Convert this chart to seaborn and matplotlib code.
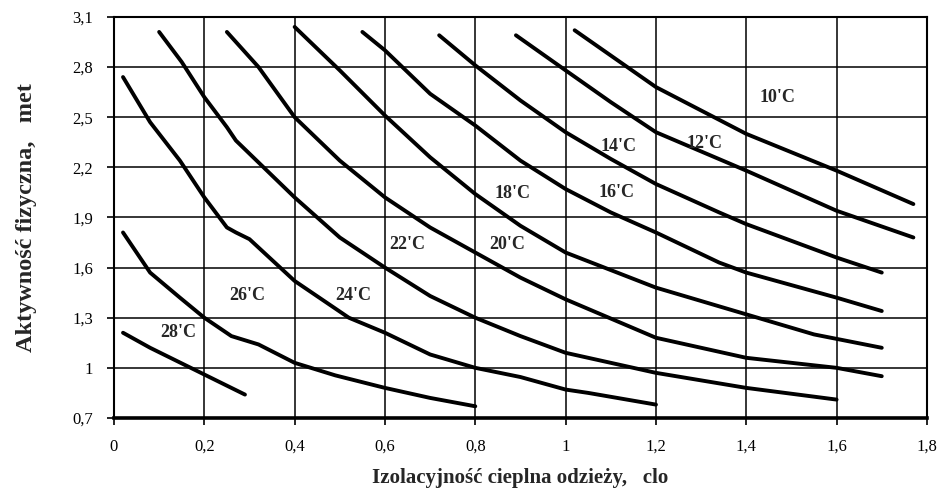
import numpy as np
import pandas as pd
import matplotlib
matplotlib.use("Agg")
import matplotlib.pyplot as plt
import seaborn as sns

sns.set_style("ticks")
plt.rcParams['font.family'] = ['Liberation Serif', 'DejaVu Serif']

# izolacyjnosc odziezy [clo] i aktywnosc [met]
x28 = [0.02, 0.08, 0.14, 0.2, 0.29]
y28 = [1.21, 1.12, 1.04, 0.96, 0.84]
x26 = [0.02, 0.08, 0.146, 0.2, 0.26, 0.32, 0.4, 0.49, 0.6, 0.7, 0.8]
y26 = [1.81, 1.57, 1.42, 1.30, 1.19, 1.14, 1.03, 0.955, 0.88, 0.82, 0.77]
x24 = [0.02, 0.08, 0.146, 0.2, 0.25, 0.27, 0.3, 0.4, 0.52, 0.6, 0.7, 0.8, 0.9, 1.0, 1.05, 1.2]
y24 = [2.74, 2.47, 2.24, 2.02, 1.84, 1.81, 1.77, 1.52, 1.30, 1.21, 1.08, 1.00, 0.945, 0.87, 0.85, 0.78]
x22 = [0.1, 0.15, 0.2, 0.25, 0.27, 0.4, 0.5, 0.6, 0.7, 0.8, 0.9, 1.0, 1.15, 1.2, 1.4, 1.6]
y22 = [3.01, 2.83, 2.62, 2.44, 2.36, 2.02, 1.78, 1.60, 1.43, 1.30, 1.19, 1.09, 1.00, 0.97, 0.88, 0.81]
x20 = [0.25, 0.32, 0.4, 0.5, 0.6, 0.7, 0.8, 0.9, 1.0, 1.2, 1.4, 1.6, 1.7]
y20 = [3.01, 2.80, 2.50, 2.24, 2.02, 1.84, 1.69, 1.54, 1.41, 1.18, 1.06, 1.00, 0.95]
x18 = [0.4, 0.5, 0.6, 0.7, 0.8, 0.9, 1.0, 1.2, 1.3, 1.4, 1.55, 1.7]
y18 = [3.04, 2.78, 2.51, 2.26, 2.04, 1.85, 1.69, 1.48, 1.40, 1.32, 1.20, 1.12]
x16 = [0.55, 0.6, 0.7, 0.8, 0.9, 1.0, 1.1, 1.2, 1.34, 1.4, 1.6, 1.7]
y16 = [3.01, 2.90, 2.64, 2.45, 2.24, 2.07, 1.93, 1.81, 1.63, 1.57, 1.42, 1.34]
x14 = [0.72, 0.8, 0.9, 1.0, 1.1, 1.2, 1.34, 1.4, 1.6, 1.7]
y14 = [2.99, 2.81, 2.60, 2.41, 2.25, 2.10, 1.93, 1.86, 1.66, 1.57]
x12 = [0.89, 1.0, 1.1, 1.2, 1.4, 1.6, 1.77]
y12 = [2.99, 2.78, 2.59, 2.41, 2.18, 1.94, 1.78]
x10 = [1.02, 1.11, 1.2, 1.4, 1.6, 1.77]
y10 = [3.02, 2.85, 2.68, 2.40, 2.18, 1.98]

temps = ["28'C", "26'C", "24'C", "22'C", "20'C", "18'C", "16'C", "14'C", "12'C", "10'C"]
xs = [x28, x26, x24, x22, x20, x18, x16, x14, x12, x10]
ys = [y28, y26, y24, y22, y20, y18, y16, y14, y12, y10]

xticks = [0, 0.2, 0.4, 0.6, 0.8, 1.0, 1.2, 1.4, 1.6, 1.8]
yticks = [0.7, 1.0, 1.3, 1.6, 1.9, 2.2, 2.5, 2.8, 3.1]

df = pd.concat([pd.DataFrame({'clo': x, 'met': y, 'temp': t})
                for t, x, y in zip(temps, xs, ys)], ignore_index=True)

fig = plt.figure(figsize=(9.42, 4.97), dpi=100)
ax = fig.add_axes([0.121, 0.159, 0.863, 0.807])

sns.lineplot(data=df, x='clo', y='met', hue='temp', units='temp', estimator=None,
             sort=False, palette=['black'] * len(temps), legend=False,
             lw=2.8, solid_capstyle='round', ax=ax)

# polozenie opisow krzywych
lab_pos = {"28'C": (0.142, 1.21), "26'C": (0.294, 1.435), "24'C": (0.529, 1.435),
           "22'C": (0.649, 1.74), "20'C": (0.87, 1.74), "18'C": (0.882, 2.045),
           "16'C": (1.113, 2.05), "14'C": (1.117, 2.322), "12'C": (1.307, 2.345),
           "10'C": (1.468, 2.62)}
for t in temps:
    ax.text(*lab_pos[t], t, fontsize=13, fontweight='bold', ha='center', va='center')

ax.set_xlim(0, 1.8)
ax.set_ylim(0.7, 3.1)
ax.set_xticks(xticks)
ax.set_yticks(yticks)
ax.set_xticklabels([f"{round(v, 1):g}".replace('.', ',') for v in xticks])
ax.set_yticklabels([f"{round(v, 1):g}".replace('.', ',') for v in yticks])
ax.grid(True, color='black', lw=1.1)
ax.set_axisbelow(True)
for s in ax.spines.values():
    s.set_visible(True)
    s.set_color('black')
    s.set_linewidth(1.5)
ax.spines['bottom'].set_linewidth(2.6)
ax.tick_params(direction='out', length=5, width=1.2, pad=10, labelsize=12, colors='black')

ax.set_xlabel("Izolacyjność cieplna odzieży,   clo", fontsize=15, fontweight='bold')
ax.set_ylabel("Aktywność fizyczna,   met", fontsize=17.5, fontweight='bold')
ax.xaxis.set_label_coords(0.5, -0.125)
ax.yaxis.set_label_coords(-0.095, 0.5)

fig.savefig("out.png", dpi=100)
